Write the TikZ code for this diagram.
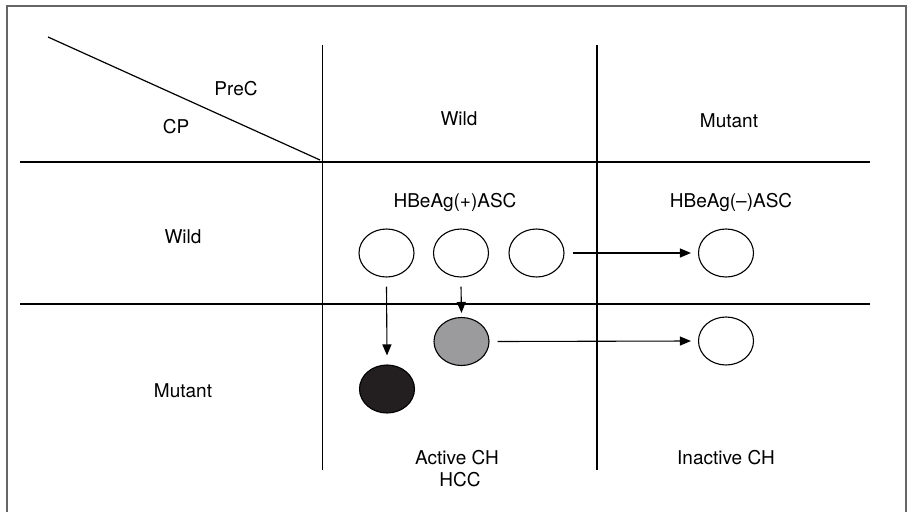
\documentclass[tikz,border=0pt]{standalone}
\usepackage{fontspec}
\setmainfont{TeX Gyre Heros}
\usetikzlibrary{arrows.meta,shapes.geometric}
\definecolor{framegray}{HTML}{666666}
\definecolor{cellgray}{HTML}{9B9B9D}
\definecolor{cellblack}{HTML}{231F20}
\begin{document}
\begin{tikzpicture}[x=1pt,y=-1pt,
  every node/.style={font=\fontsize{19}{22}\selectfont, inner sep=0pt},
  label/.style={anchor=base},
  grid/.style={line width=1.2pt, black},
  cell/.style={ellipse, draw, line width=1.1pt, minimum width=55pt, minimum height=48pt, fill=white},
  flow/.style={line width=1.1pt, -{Triangle[length=11pt,width=9pt]}}]
\useasboundingbox (0,0) rectangle (908,512);
% outer frame, open at the bottom
\draw[framegray, line width=2pt] (7,512) -- (7,6) -- (906,6) -- (906,512);
% table grid
\draw[grid] (48,37) -- (320,160);
\draw[grid] (20,162) -- (870,162);
\draw[grid] (20,304) -- (870,304);
\draw[grid] (322.5,45) -- (322.5,470);
\draw[grid] (597,45) -- (597,470);
% headers
\node[label] (prec) at (236,95) {PreC};
\node[label] (cp) at (176,133) {CP};
\node[label] (hwild) at (459,125) {Wild};
\node[label] (hmut) at (729,127) {Mutant};
\node[label] (rwild) at (183,243) {Wild};
\node[label] (rmut) at (183,397) {Mutant};
\node[label] (pos) at (455,207) {HBeAg(+)ASC};
\node[label] (neg) at (731,207) {HBeAg(–)ASC};
\node[label] (act) at (457,464) {Active CH};
\node[label] (hcc) at (460,486) {HCC};
\node[label] (inact) at (726,464) {Inactive CH};
% cells
\node[cell] (c1) at (386.5,253) {};
\node[cell] (c2) at (461,253) {};
\node[cell] (c3) at (536.5,253) {};
\node[cell] (c4) at (726,253) {};
\node[cell, fill=cellgray] (c5) at (461.5,341.5) {};
\node[cell, fill=cellblack] (c6) at (387,389) {};
\node[cell] (c7) at (726,341) {};
% transitions (shifts are in page units: negative yshift goes down)
\draw[flow] ([xshift=8pt]c3.east) -- ([xshift=-7pt]c4.west);
\draw[flow] ([xshift=8pt]c5.east) -- ([xshift=-7pt]c7.west);
\draw[flow] ([yshift=-9pt]c1.south) -- ([yshift=9pt]c6.north);
\draw[flow] ([yshift=-9pt]c2.south) -- ([yshift=4pt]c5.north);
\end{tikzpicture}
\end{document}
